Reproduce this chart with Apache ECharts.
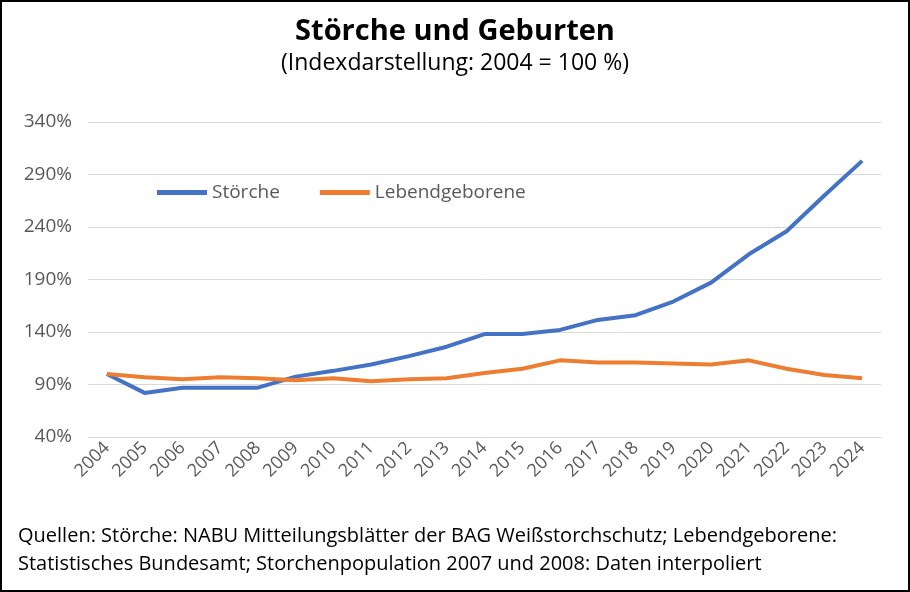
<!DOCTYPE html>
<html><head><meta charset="utf-8">
<script src="https://cdn.jsdelivr.net/npm/echarts@6/dist/echarts.min.js"></script>
<style>
html,body{margin:0;padding:0;background:#fff}
#c{width:906px;height:588px;border:2px solid #000}
</style></head><body>
<div id="c"></div>
<script>
const years = ['2004','2005','2006','2007','2008','2009','2010','2011','2012','2013','2014','2015','2016','2017','2018','2019','2020','2021','2022','2023','2024'];
const stoerche = [100,82,87,87,87,97.5,103,109,117,126,138,138,142,151.5,156,169,187,214,236,270,303];
const geborene = [100,97,95,97,96,94,96,93,95,96,101,105,113,111,111,110,109,113,105,99,96];
const yTicks = [40,90,140,190,240,290,340];

var chart = echarts.init(document.getElementById('c'));
chart.setOption({
    animation: false,
    textStyle: { fontFamily: 'Open Sans' },
    title: {
        left: 'center', top: 10,
        text: 'Störche und Geburten',
        subtext: '(Indexdarstellung: 2004 = 100 %)',
        itemGap: 6,
        textStyle: { fontSize: 29, fontWeight: 'bold', color: '#000', fontFamily: 'Open Sans' },
        subtextStyle: { fontSize: 23, color: '#000', fontFamily: 'Open Sans' }
    },
    legend: {
        left: 150, top: 176, itemWidth: 50, itemGap: 40,
        icon: 'rect', itemHeight: 5,
        textStyle: { fontSize: 19, color: '#595959' },
        data: ['Störche', 'Lebendgeborene']
    },
    grid: { left: 86, right: 27, top: 120, bottom: 153 },
    xAxis: {
        type: 'category', data: years, boundaryGap: true,
        axisLine: { lineStyle: { color: '#d9d9d9' } },
        axisTick: { show: false },
        axisLabel: { rotate: 45, fontSize: 18, color: '#595959', margin: 8 }
    },
    yAxis: {
        type: 'value', min: yTicks[0], max: yTicks[yTicks.length - 1], interval: 50,
        axisLabel: { formatter: '{value}%', fontSize: 19, color: '#595959', margin: 16 },
        splitLine: { lineStyle: { color: '#d9d9d9' } }
    },
    graphic: [{
        type: 'text', left: 16, top: 520,
        style: {
            text: 'Quellen: Störche: NABU Mitteilungsblätter der BAG Weißstorchschutz; Lebendgeborene:\nStatistisches Bundesamt; Storchenpopulation 2007 und 2008: Daten interpoliert',
            fontSize: 20, lineHeight: 28, fill: '#000', fontFamily: 'Open Sans'
        }
    }],
    series: [{
        name: 'Störche', type: 'line', data: stoerche, symbol: 'none',
        lineStyle: { width: 4, color: '#4472c4' }, itemStyle: { color: '#4472c4' }
    }, {
        name: 'Lebendgeborene', type: 'line', data: geborene, symbol: 'none',
        lineStyle: { width: 4, color: '#ed7d31' }, itemStyle: { color: '#ed7d31' }
    }]
});
</script>
</body></html>
